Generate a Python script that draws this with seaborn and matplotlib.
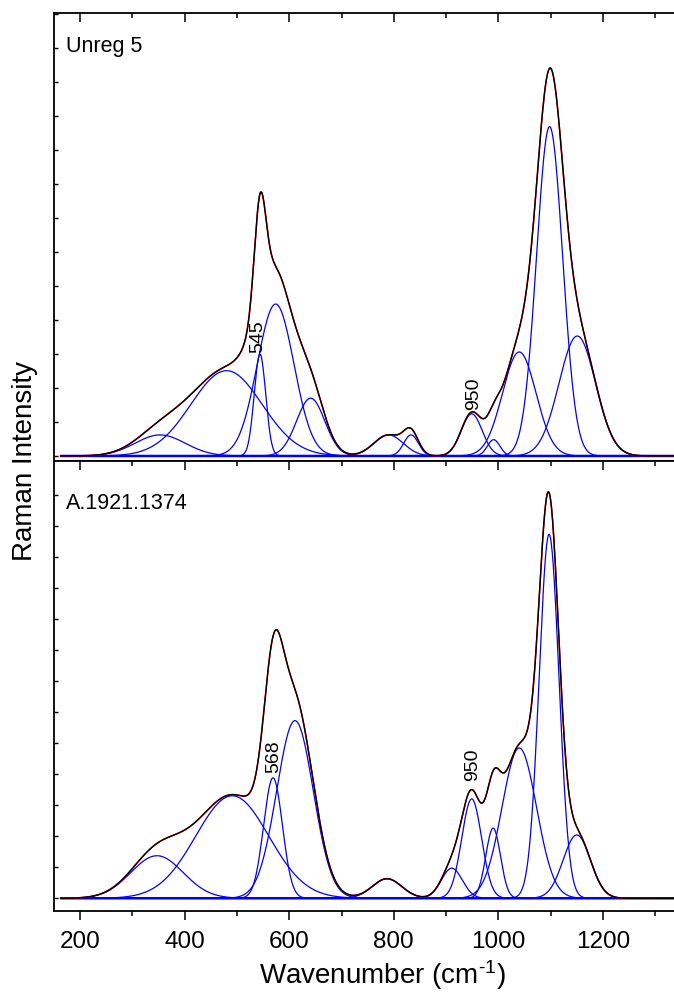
import numpy as np
import pandas as pd
import matplotlib
matplotlib.use("Agg")
import matplotlib.pyplot as plt
import seaborn as sns
from matplotlib.ticker import MultipleLocator

# fitted band parameters (centre cm-1, height, sigma)
top_centers = [353, 480, 544, 574, 641, 790, 833, 949, 991, 1040, 1098, 1151]
top_heights = [0.62, 2.51, 3.0, 4.47, 1.70, 0.62, 0.62, 1.24, 0.48, 3.06, 9.69, 3.53]
top_widths = [48, 68, 11, 35, 27, 28, 14, 20, 12, 32, 25, 35]

bot_centers = [347, 491, 569, 611, 787, 911, 949, 990, 1040, 1097, 1150]
bot_heights = [1.37, 3.30, 3.88, 5.72, 0.63, 0.97, 3.20, 2.26, 4.84, 11.72, 2.04]
bot_widths = [50, 70, 18, 35, 28, 20, 19, 14, 33, 19, 26]

top_label = "Unreg 5"
bot_label = "A.1921.1374"
top_notes = ["545", "950"]
top_note_x = [539, 953]
top_note_y = [3.54, 1.85]
bot_notes = ["568", "950"]
bot_note_x = [571, 950]
bot_note_y = [4.59, 4.32]

wn = np.arange(163, 1340, 1.0)

sns.set_theme(style="ticks")
plt.rcParams['font.family'] = ['Liberation Sans', 'DejaVu Sans']
plt.rcParams['mathtext.fontset'] = 'custom'
plt.rcParams['mathtext.rm'] = 'Liberation Sans'
plt.rcParams['mathtext.it'] = 'Liberation Sans'
plt.rcParams['text.color'] = 'black'
plt.rcParams['xtick.color'] = 'black'
plt.rcParams['ytick.color'] = 'black'

fig = plt.figure(figsize=(6.74, 9.95), dpi=100)
ax_top = fig.add_axes([0.0801, 0.5357, 0.9199, 0.4502])
ax_bot = fig.add_axes([0.0801, 0.0834, 0.9199, 0.4523])


def draw_panel(ax, centers, heights, widths, label, notes, nx, ny, ly):
    rows = []
    total = np.zeros_like(wn)
    for i, (c, h, s) in enumerate(zip(centers, heights, widths)):
        g = h * np.exp(-0.5 * ((wn - c) / s) ** 2)
        total += g
        rows.append(pd.DataFrame({"x": wn, "y": g, "band": i}))
    comps = pd.concat(rows)
    sns.lineplot(data=comps, x="x", y="y", units="band", estimator=None,
                 color="#0000ff", lw=0.9, ax=ax)
    sns.lineplot(x=wn, y=np.zeros_like(wn), color="#0000ff", lw=1.8, ax=ax)
    sns.lineplot(x=wn, y=total, color="#ff0000", lw=1.1, ax=ax)
    sns.lineplot(x=wn, y=total, color="black", lw=1.0, ax=ax)
    for t, x, y in zip(notes, nx, ny):
        ax.text(x, y, t, rotation=90, ha="center", va="center", fontsize=14)
    ax.text(0.02, ly, label, transform=ax.transAxes,
            ha="left", va="top", fontsize=15.5)
    ax.set_xlim(150, 1336)
    ax.set_xlabel("")
    ax.set_ylabel("")
    ax.xaxis.set_major_locator(MultipleLocator(200))
    ax.xaxis.set_minor_locator(MultipleLocator(100))
    ax.yaxis.set_major_locator(MultipleLocator(1))
    ax.spines["right"].set_visible(False)
    for s in ["left", "top", "bottom"]:
        ax.spines[s].set_linewidth(1.3)
        ax.spines[s].set_color("black")
    ax.tick_params(axis="y", which="both", direction="in", length=3, width=1,
                   left=True, right=False, labelleft=False)
    ax.tick_params(axis="x", which="major", length=6.5, width=1.1)
    ax.tick_params(axis="x", which="minor", length=3.5, width=1.1)


draw_panel(ax_top, top_centers, top_heights, top_widths, top_label,
           top_notes, top_note_x, top_note_y, 0.95)
draw_panel(ax_bot, bot_centers, bot_heights, bot_widths, bot_label,
           bot_notes, bot_note_x, bot_note_y, 0.93)

ax_top.set_ylim(-0.147, 13.03)
ax_bot.set_ylim(-0.41, 14.08)
ax_bot.set_yticks(range(0, 14))

ax_top.tick_params(axis="x", which="both", direction="in", top=True,
                   bottom=False, labelbottom=False, labeltop=False)
ax_bot.tick_params(axis="x", which="both", top=True, bottom=True,
                   labeltop=False, labelbottom=True, labelsize=17.5, pad=7)
ax_bot.tick_params(axis="x", which="both", direction="out", bottom=True)
for t in ax_bot.xaxis.get_major_ticks() + ax_bot.xaxis.get_minor_ticks():
    t.tick2line.set_marker(3)  # top ticks pointing down into the panel

fig.text(25 / 674, 1 - 461 / 995, "Raman Intensity", rotation=90,
         ha="center", va="center", fontsize=20)
fig.text(382 / 674, 1 - 975 / 995, r"Wavenumber (cm$^{\text{-1}}$)",
         ha="center", va="center", fontsize=20)

fig.savefig("out.png", dpi=100)
